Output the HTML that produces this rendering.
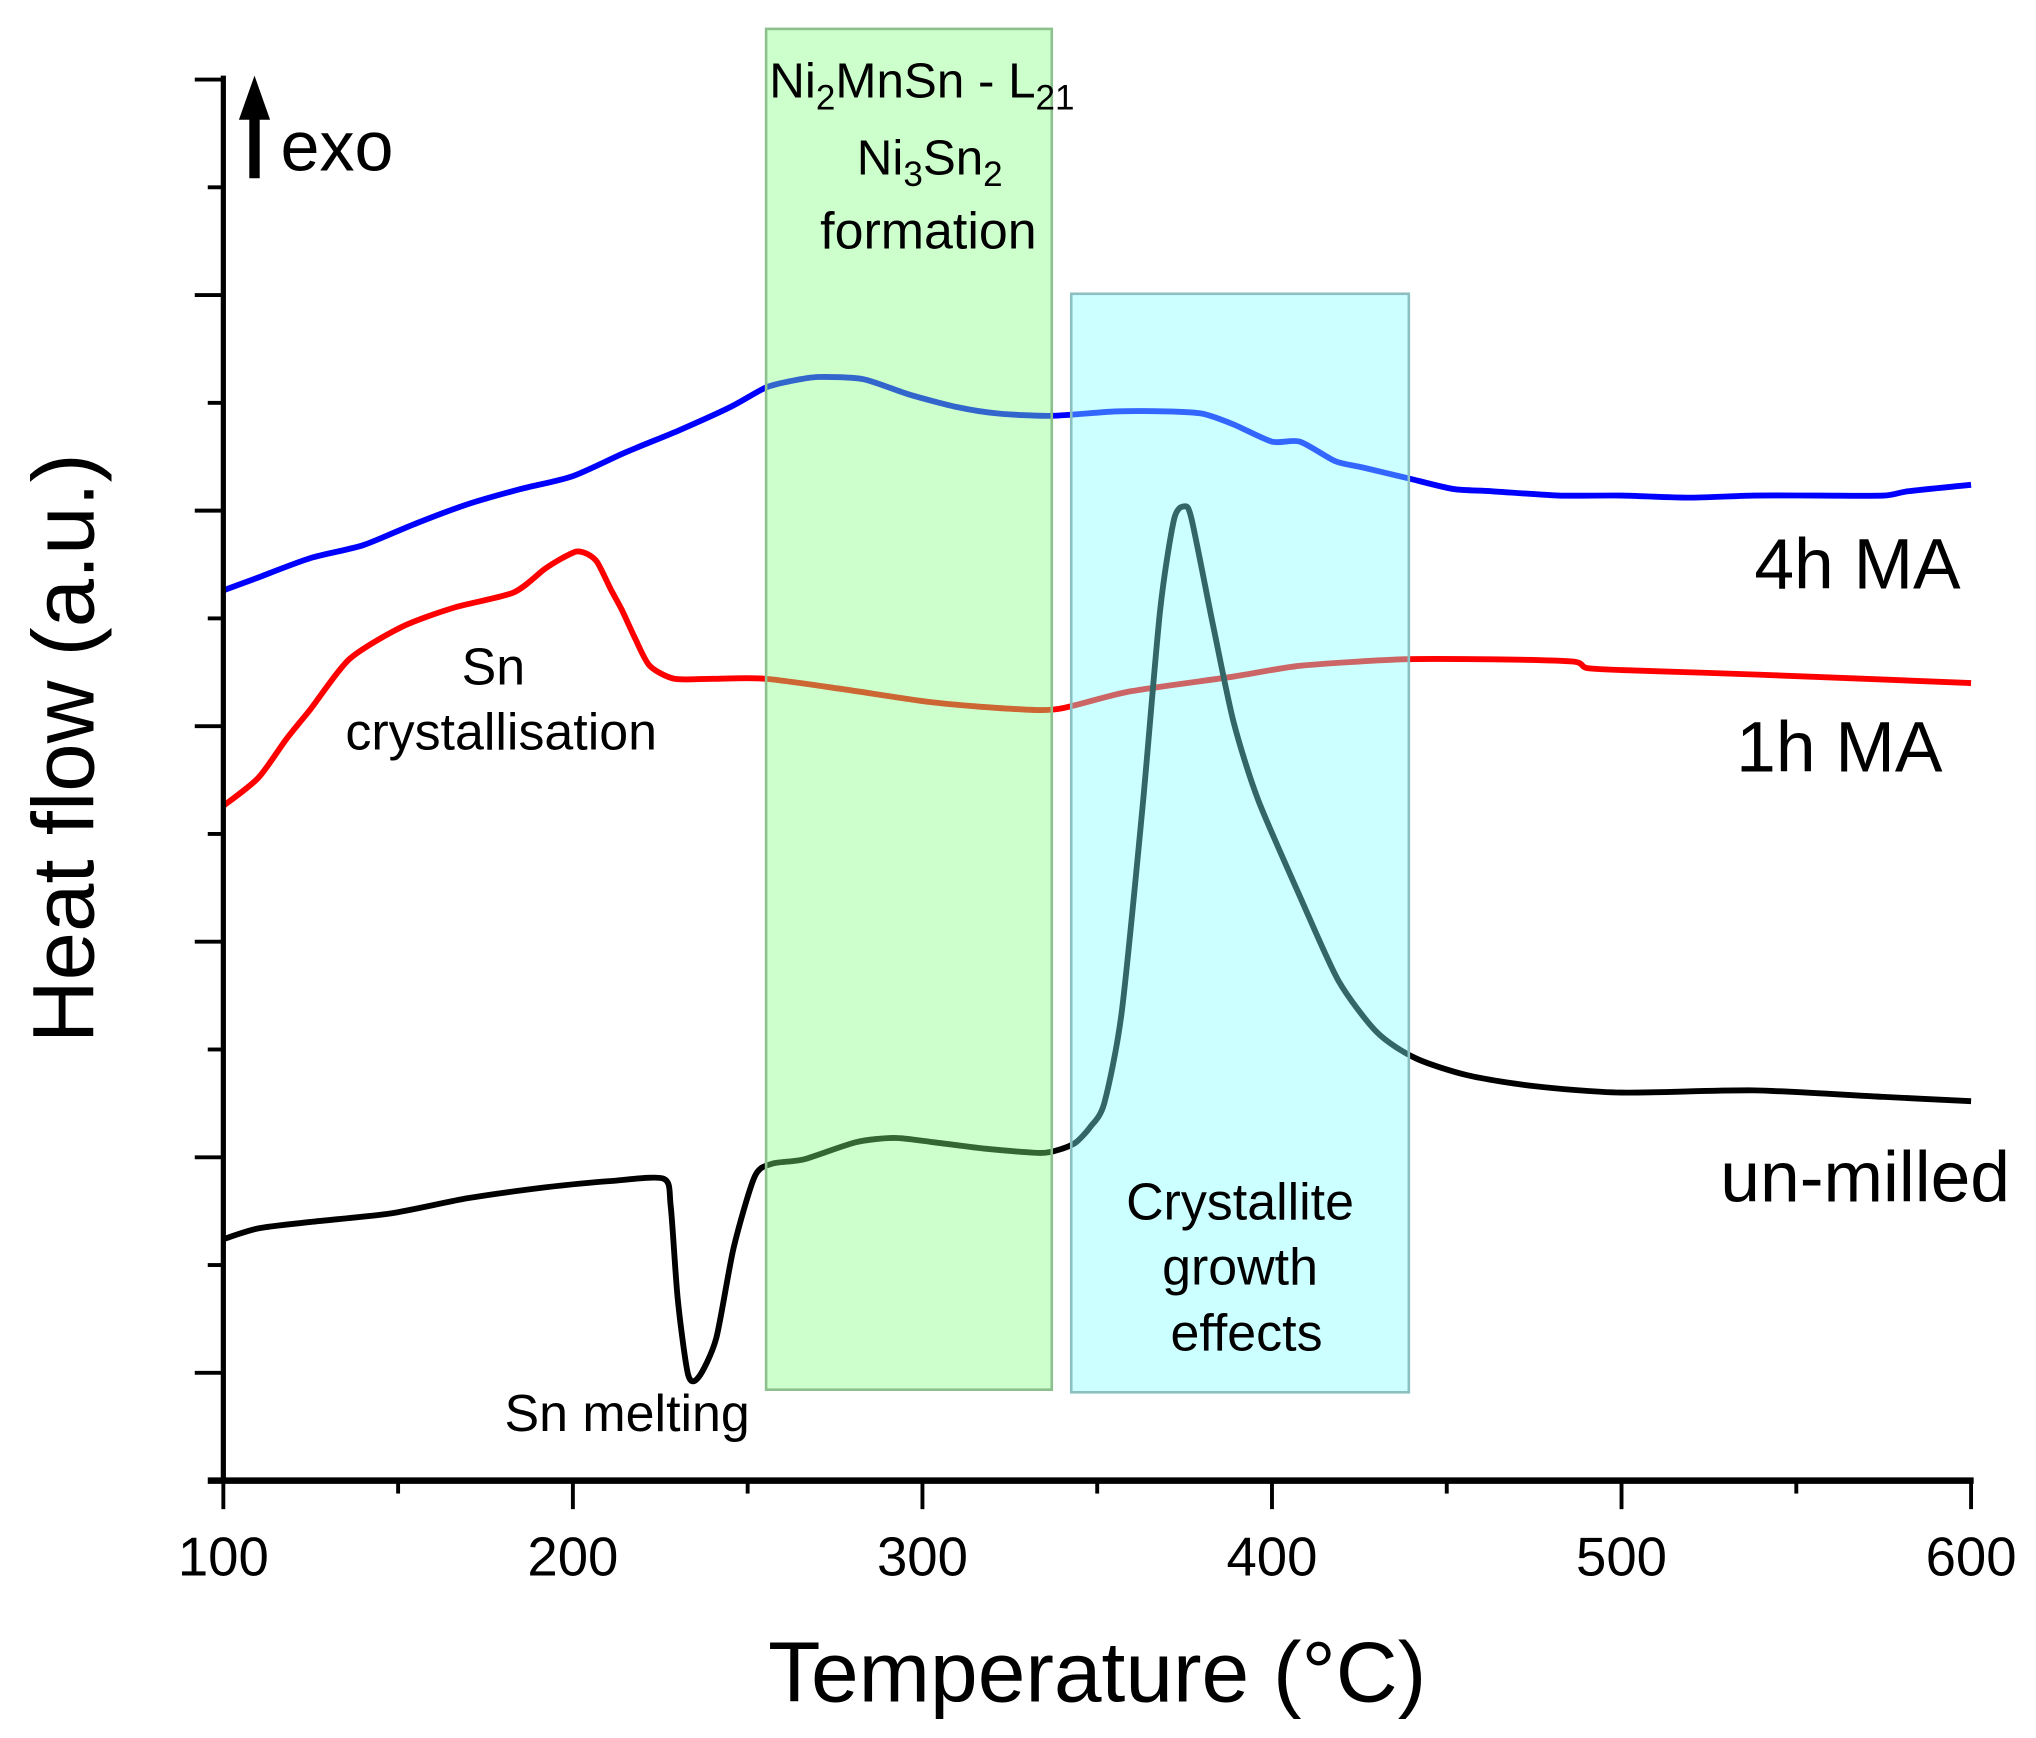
<!DOCTYPE html>
<html><head><meta charset="utf-8"><style>
html,body{margin:0;padding:0;background:#fff}
svg{display:block;font-family:"Liberation Sans",Arial,sans-serif}
</style></head><body>
<svg id="chart" width="2036" height="1738" viewBox="0 0 1568 1338" xmlns="http://www.w3.org/2000/svg">
<g id="series"></g>
<g id="boxes"></g>
<g id="axes"></g>
<g id="labels">
  <line x1="196" y1="137" x2="196" y2="85" stroke="#000" stroke-width="8"/>
  <polygon points="184,92 196,58 208,92" fill="#000"/>
  <text x="216" y="131" font-size="54">exo</text>
  <text transform="translate(72,576) rotate(-90)" text-anchor="middle" font-size="67">Heat flow (a.u.)</text>
  <text x="845" y="1310" text-anchor="middle" font-size="66">Temperature (°C)</text>
  <text x="1510" y="453" text-anchor="end" font-size="55">4h MA</text>
  <text x="1496" y="594" text-anchor="end" font-size="55">1h MA</text>
  <text x="1548" y="925" text-anchor="end" font-size="55">un-milled</text>
  <text x="710" y="75" text-anchor="middle" font-size="38">Ni<tspan font-size="27" dy="9">2</tspan><tspan dy="-9">MnSn - L</tspan><tspan font-size="27" dy="9">21</tspan></text>
  <text x="716" y="134" text-anchor="middle" font-size="38">Ni<tspan font-size="27" dy="9">3</tspan><tspan dy="-9">Sn</tspan><tspan font-size="27" dy="9">2</tspan></text>
  <text x="715" y="191" text-anchor="middle" font-size="40">formation</text>
  <text x="955" y="939" text-anchor="middle" font-size="40">Crystallite</text>
  <text x="955" y="989" text-anchor="middle" font-size="40">growth</text>
  <text x="960" y="1040" text-anchor="middle" font-size="40">effects</text>
  <text x="380" y="527" text-anchor="middle" font-size="40">Sn</text>
  <text x="386" y="577" text-anchor="middle" font-size="40">crystallisation</text>
  <text x="483" y="1102" text-anchor="middle" font-size="40">Sn melting</text>
</g>
</svg>
<script>
const xTicks = [100,200,300,400,500,600];
const tBlue = [100,110,125,140,155,170,185,200,215,230,245,255,262,270,283,296,310,322,337,355,370,380,389,400,408,418,426,439,452,463,482,500,519,538,556,575,582,600];
const vBlue = [4.13,4.19,4.28,4.34,4.44,4.53,4.60,4.66,4.77,4.87,4.98,5.07,5.10,5.12,5.11,5.04,4.98,4.95,4.94,4.96,4.96,4.95,4.90,4.82,4.82,4.73,4.70,4.65,4.60,4.59,4.57,4.57,4.56,4.57,4.57,4.57,4.59,4.62];
const tRed = [100,110,118,125,136,151,166,183,192,197,201,204,207,211,214,218,222,229,240,255,278,303,326,339,359,389,408,437,463,486,490,500,538,600];
const vRed = [3.13,3.26,3.44,3.58,3.81,3.96,4.05,4.12,4.23,4.28,4.31,4.30,4.26,4.13,4.04,3.90,3.78,3.72,3.72,3.72,3.67,3.61,3.58,3.58,3.66,3.73,3.78,3.81,3.81,3.80,3.77,3.76,3.74,3.70];
const tBlack = [100,110,125,148,170,192,211,226,228,230,233,236,241,246,252,257,266,281,292,303,318,334,340,344,348,352,357,363,368,372,375,377,383,389,396,408,419,430,441,456,475,500,538,575,600];
const vBlack = [1.12,1.17,1.20,1.24,1.31,1.36,1.39,1.40,1.27,0.84,0.49,0.48,0.66,1.08,1.41,1.47,1.49,1.57,1.59,1.57,1.54,1.52,1.54,1.57,1.64,1.75,2.17,3.13,4.04,4.46,4.52,4.46,3.98,3.52,3.16,2.71,2.32,2.08,1.96,1.88,1.83,1.80,1.81,1.78,1.76];
const NS="http://www.w3.org/2000/svg";
const X0=172,X1=1518,YB=1140,YT=58,PXU=166;
function xs(t){return X0+(t-100)*(X1-X0)/500;}
function ys(v){return YB-v*PXU;}
function mk(tag,attrs,parent){const e=document.createElementNS(NS,tag);for(const k in attrs)e.setAttribute(k,attrs[k]);parent.appendChild(e);return e;}
const sg=document.getElementById('series');
function line(ts,vs,color,name){
  const P=ts.map((t,i)=>[xs(t),ys(vs[i])]);
  let d='M'+P[0][0].toFixed(1)+','+P[0][1].toFixed(1);
  for(let i=0;i<P.length-1;i++){
    const p0=P[Math.max(0,i-1)],p1=P[i],p2=P[i+1],p3=P[Math.min(P.length-1,i+2)];
    const k=1/8;
    const c1=[p1[0]+(p2[0]-p0[0])*k,p1[1]+(p2[1]-p0[1])*k];
    const c2=[p2[0]-(p3[0]-p1[0])*k,p2[1]-(p3[1]-p1[1])*k];
    d+='C'+c1[0].toFixed(1)+','+c1[1].toFixed(1)+' '+c2[0].toFixed(1)+','+c2[1].toFixed(1)+' '+p2[0].toFixed(1)+','+p2[1].toFixed(1);
  }
  const p=mk('path',{d:d,fill:'none',stroke:color,'stroke-width':4.5,'stroke-linejoin':'round'},sg);
  
  
}
line(tBlue,vBlue,'#0000ff','series-4h-ma');
line(tRed,vRed,'#ff0000','series-1h-ma');
line(tBlack,vBlack,'#000000','series-un-milled');
const bg=document.getElementById('boxes');
const b1=mk('rect',{x:590,y:22,width:220,height:1048,fill:'#80ff80','fill-opacity':0.4,stroke:'#8cc08c','stroke-width':2},bg);


const b2=mk('rect',{x:825,y:226,width:260,height:846,fill:'#80ffff','fill-opacity':0.4,stroke:'#8cc0c0','stroke-width':2},bg);


const ag=document.getElementById('axes');
const ya=mk('line',{x1:X0,y1:YT,x2:X0,y2:YB+2,stroke:'#000','stroke-width':4},ag);


const xa=mk('line',{x1:X0-12,y1:YB,x2:X1+2,y2:YB,stroke:'#000','stroke-width':5},ag);


for(let i=1;i<=13;i++){
  const y=YB-i*83; const major=(i%2===1);
  const tk=mk('line',{x1:major?150:160,y1:y,x2:X0,y2:y,stroke:'#000','stroke-width':3},ag);
  
  
}
for(let t=100;t<=600;t+=50){
  const major=t%100===0;
  const tk=mk('line',{x1:xs(t),y1:YB,x2:xs(t),y2:major?1162:1150,stroke:'#000','stroke-width':3},ag);
  
  
}
xTicks.forEach(t=>{
  const tx=mk('text',{x:xs(t),y:1213,'text-anchor':'middle','font-size':42},ag);
  tx.textContent=t;
  
  
});
</script>
</body></html>
